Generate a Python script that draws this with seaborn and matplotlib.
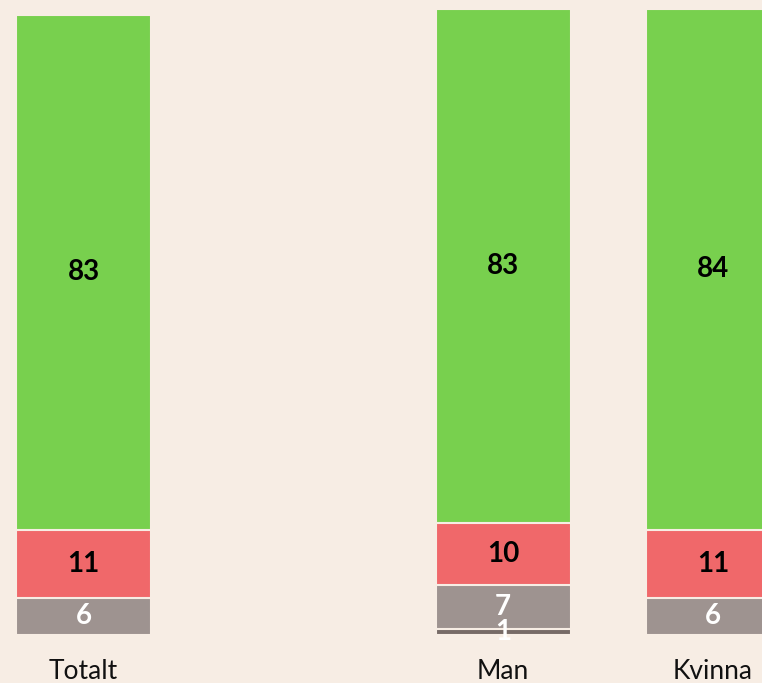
import matplotlib
matplotlib.use("Agg")
import matplotlib.pyplot as plt
import seaborn as sns
import pandas as pd
import numpy as np

categories = ["Totalt", "Man", "Kvinna"]
order = ["Totalt", " ", "Man", "Kvinna"]
green_vals = [83, 83, 84]
red_vals = [11, 10, 11]
gray_vals = [6, 7, 6]
dark_vals = [0, 1, 0]

bg = "#F7EDE4"
c_green = "#78D04E"
c_red = "#F0686A"
c_gray = "#9E9390"
c_dark = "#776B67"

sns.set_theme(style="white")
plt.rcParams["font.family"] = ["Lato", "DejaVu Sans"]

fig = plt.figure(figsize=(7.62, 6.83), dpi=100, facecolor=bg)
ax = fig.add_axes([0, 1 - 635 / 683, 1, 635 / 683])
ax.set_facecolor(bg)

df = pd.DataFrame({"cat": categories, "dark": dark_vals, "gray": gray_vals,
                   "red": red_vals, "green": green_vals})
df["c1"] = df["dark"]
df["c2"] = df["c1"] + df["gray"]
df["c3"] = df["c2"] + df["red"]
df["c4"] = df["c3"] + df["green"]

for col, color in [("c4", c_green), ("c3", c_red), ("c2", c_gray), ("c1", c_dark)]:
    sub = df[df[col] > 0] if col == "c1" else df
    sns.barplot(data=sub, x="cat", y=col, order=order, color=color, width=0.643,
                edgecolor=bg, linewidth=1.5, saturation=1, ax=ax)

pos = {c: order.index(c) for c in categories}
for _, r in df.iterrows():
    x = pos[r["cat"]]
    segs = [(r["dark"], 0, "white"), (r["gray"], r["c1"], "white"),
            (r["red"], r["c2"], "black"), (r["green"], r["c3"], "black")]
    for val, base, tc in segs:
        if val > 0:
            ax.text(x, base + val / 2, f"{int(val)}", ha="center", va="center",
                    fontsize=20, fontweight="bold", color=tc)

ax.set_xlim(-83.5 / 210, 3 + (762 - 713) / 210)
ax.set_ylim(0, 635 / 6.2)
ax.set_xlabel("")
ax.set_ylabel("")
ax.set_yticks([])
ax.tick_params(axis="x", length=0, labelsize=19, pad=17, colors="#111111")
for s in ax.spines.values():
    s.set_visible(False)

fig.savefig("out.png", dpi=100, facecolor=bg)
